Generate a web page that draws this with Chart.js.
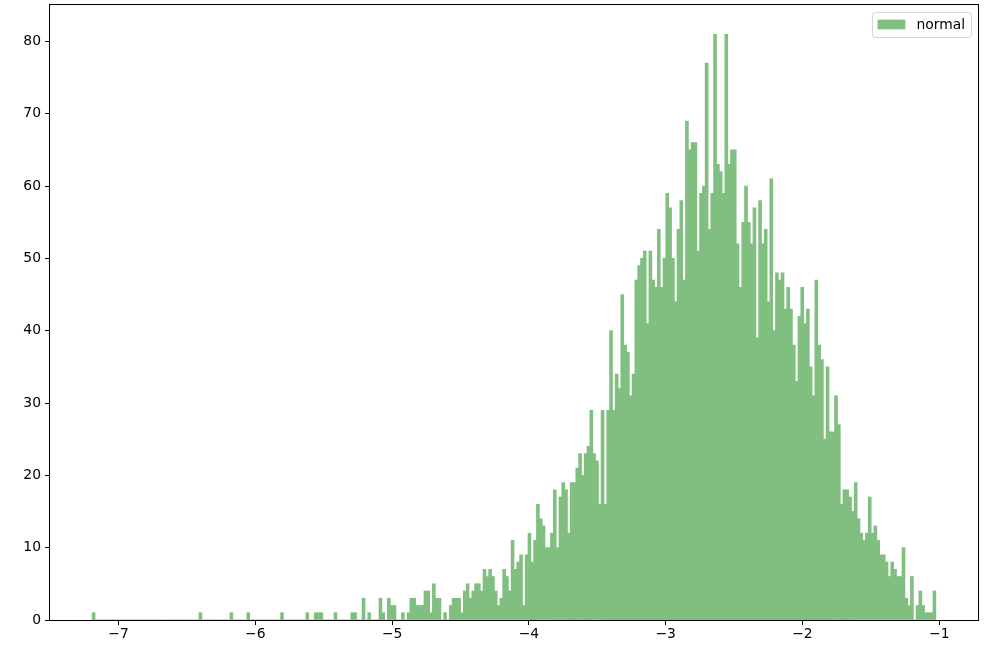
<!DOCTYPE html>
<html>
<head>
<meta charset="utf-8">
<script src="https://cdn.jsdelivr.net/npm/chart.js@4.4.1/dist/chart.umd.min.js"></script>
<style>
  html, body { margin: 0; padding: 0; background: #ffffff; }
  #hist { display: block; }
</style>
</head>
<body>
<canvas id="hist" width="1008" height="652"></canvas>
<script>
// histogram: 300 equal bins
const seriesLabel = 'normal';
const binStart = -7.193;
const binWidth = 0.02056;
const counts = [
  1, 0, 0, 0, 0, 0, 0, 0, 0, 0,   0, 0, 0, 0, 0, 0, 0, 0, 0, 0,
  0, 0, 0, 0, 0, 0, 0, 0, 0, 0,   0, 0, 0, 0, 0, 0, 0, 0, 1, 0,
  0, 0, 0, 0, 0, 0, 0, 0, 0, 1,   0, 0, 0, 0, 0, 1, 0, 0, 0, 0,
  0, 0, 0, 0, 0, 0, 0, 1, 0, 0,   0, 0, 0, 0, 0, 0, 1, 0, 0, 1,
  1, 1, 0, 0, 0, 0, 1, 0, 0, 0,   0, 0, 1, 1, 0, 0, 3, 0, 1, 0,
  0, 0, 3, 1, 0, 3, 2, 2, 0, 0,   1, 0, 1, 3, 3, 2, 2, 2, 4, 4,
  1, 5, 3, 3, 0, 1, 0, 2, 3, 3,   3, 1, 4, 5, 3, 4, 5, 5, 4, 7,
  6, 7, 6, 4, 2, 3, 7, 6, 4, 11,  7, 8, 9, 2, 9, 12, 8, 11, 16, 14,
  13, 10, 10, 12, 18, 10, 17, 19, 18, 12,  19, 19, 21, 23, 20, 23, 24, 29, 23, 22,
  16, 29, 16, 29, 40, 29, 34, 32, 45, 38,  37, 31, 34, 47, 49, 50, 51, 41, 51, 47,
  46, 54, 46, 50, 59, 57, 50, 44, 54, 58,  47, 69, 65, 66, 66, 51, 59, 60, 77, 54,
  59, 81, 63, 62, 59, 81, 63, 65, 65, 52,  46, 55, 60, 55, 52, 57, 39, 58, 52, 54,
  44, 61, 40, 48, 47, 48, 43, 46, 43, 38,  33, 42, 46, 41, 43, 35, 31, 47, 38, 36,
  25, 35, 26, 26, 31, 27, 16, 18, 18, 17,  15, 19, 14, 12, 11, 12, 17, 12, 13, 11,
  9, 9, 8, 6, 8, 7, 6, 6, 10, 3,   2, 6, 0, 2, 4, 2, 1, 1, 1, 4
];
const xTicks = [-7, -6, -5, -4, -3, -2, -1];
const yTicks = [0, 10, 20, 30, 40, 50, 60, 70, 80];

// green at alpha 0.5 over white, kept opaque so neighbouring bars don't seam
const barColor = '#80bf80';
const fontSize = 13.9;
const fontFamily = '"DejaVu Sans", sans-serif';

const points = counts.map((c, i) => ({ x: binStart + (i + 0.5) * binWidth, y: c }));
const binEnd = binStart + counts.length * binWidth;
const xPad = 0.05 * (binEnd - binStart);   // matplotlib default margins
const yMax = Math.max(...counts) * 1.05;

const minusSign = v => String(v).replace('-', '\u2212');

const noPadding = scale => {
  scale.paddingTop = 0;
  scale.paddingBottom = 0;
  scale.paddingLeft = 0;
  scale.paddingRight = 0;
};

// black box round the plot area, like the axes spines
const frame = {
  id: 'frame',
  afterDatasetsDraw(chart) {
    const { ctx, chartArea: a } = chart;
    ctx.save();
    ctx.strokeStyle = '#000000';
    ctx.lineWidth = 1;
    ctx.strokeRect(Math.round(a.left) - 0.5, Math.round(a.top) - 0.5,
      Math.round(a.right - a.left) + 1, Math.round(a.bottom - a.top) + 1);
    ctx.restore();
  }
};

// legend in the upper right, boxed
const legendBox = {
  id: 'legendBox',
  afterDraw(chart) {
    const { ctx, chartArea: a } = chart;
    const fs = fontSize;
    ctx.save();
    ctx.font = fs + 'px ' + fontFamily;
    const textW = ctx.measureText(seriesLabel).width;
    const w = 0.8 * fs + 2.0 * fs + 0.8 * fs + textW;
    const h = 25;
    const right = a.right - 0.5 * fs;
    const top = Math.round(a.top + 0.5 * fs);
    const left = Math.round(right - w);
    ctx.beginPath();
    ctx.roundRect(left + 0.5, top + 0.5, Math.round(w), h, 3);
    ctx.fillStyle = 'rgba(255,255,255,0.8)';
    ctx.fill();
    ctx.strokeStyle = 'rgba(204,204,204,0.8)';
    ctx.lineWidth = 1;
    ctx.stroke();
    ctx.fillStyle = barColor;
    ctx.fillRect(left + 0.4 * fs, top + h / 2 - 0.35 * fs, 2.0 * fs, 0.7 * fs);
    ctx.fillStyle = '#000000';
    ctx.textBaseline = 'middle';
    ctx.fillText(seriesLabel, left + 0.4 * fs + 2.8 * fs, top + h / 2 + 1);
    ctx.restore();
  }
};

const ctx = document.getElementById('hist').getContext('2d');
new Chart(ctx, {
  type: 'bar',
  data: {
    datasets: [{
      label: seriesLabel,
      data: points,
      backgroundColor: barColor,
      borderWidth: 0,
      inflateAmount: 0.4,
      barPercentage: 1.0,
      categoryPercentage: 1.0
    }]
  },
  plugins: [frame, legendBox],
  options: {
    responsive: false,
    animation: false,
    devicePixelRatio: 1,
    layout: { padding: { top: 5, right: 30, left: 0, bottom: 0 } },
    plugins: {
      legend: { display: false },
      tooltip: { enabled: false }
    },
    scales: {
      x: {
        type: 'linear',
        offset: false,
        min: binStart - xPad,
        max: binEnd + xPad,
        afterBuildTicks: scale => { scale.ticks = xTicks.map(v => ({ value: v })); },
        afterFit: scale => { scale.height = 32; noPadding(scale); },
        border: { display: false },
        grid: {
          display: true,
          offset: false,
          drawOnChartArea: false,
          drawTicks: true,
          tickLength: 5,
          color: '#000000',
          lineWidth: 1
        },
        ticks: {
          color: '#000000',
          padding: 1,
          maxRotation: 0,
          autoSkip: false,
          font: { family: fontFamily, size: fontSize },
          callback: v => minusSign(v)
        }
      },
      y: {
        type: 'linear',
        min: 0,
        max: yMax,
        afterBuildTicks: scale => { scale.ticks = yTicks.map(v => ({ value: v })); },
        afterFit: scale => { scale.width = 50; noPadding(scale); },
        border: { display: false },
        grid: {
          display: true,
          drawOnChartArea: false,
          drawTicks: true,
          tickLength: 5,
          color: '#000000',
          lineWidth: 1
        },
        ticks: {
          color: '#000000',
          padding: 4,
          autoSkip: false,
          font: { family: fontFamily, size: fontSize },
          callback: v => minusSign(v)
        }
      }
    }
  }
});
</script>
</body>
</html>
